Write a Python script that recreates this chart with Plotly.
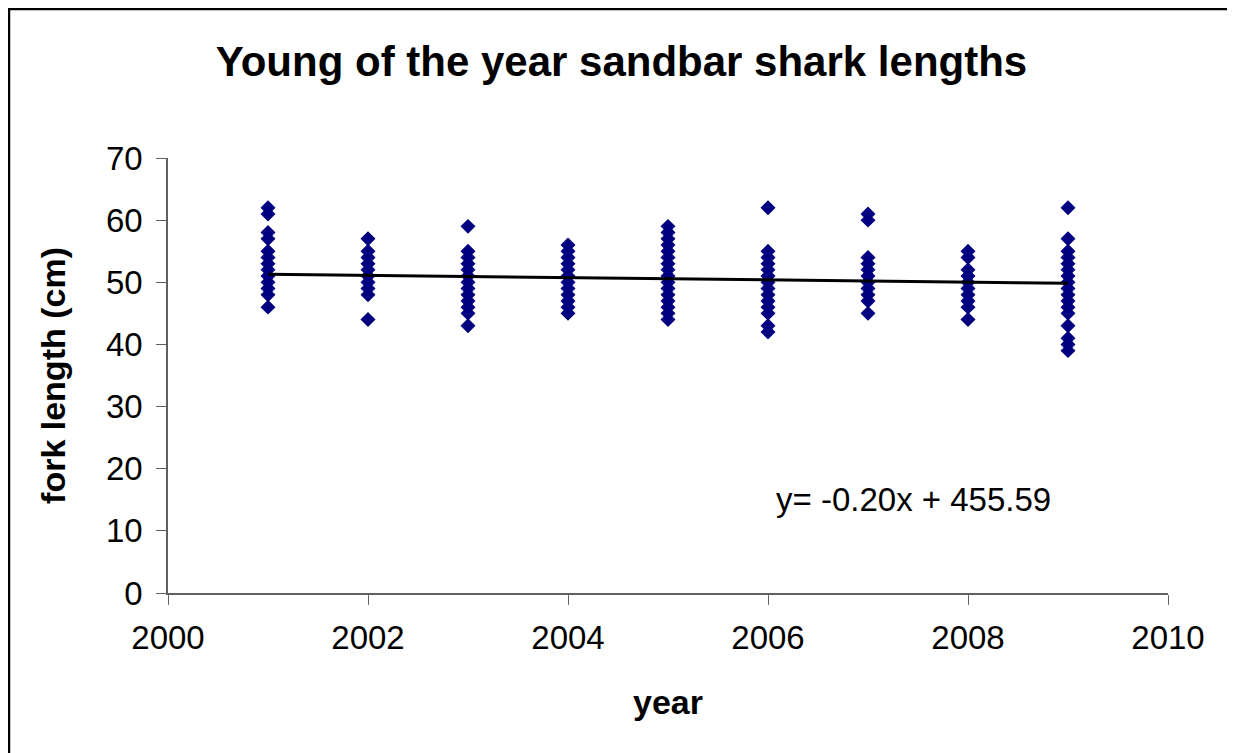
import plotly.graph_objects as go

# ---- data ----
years = [2001, 2002, 2003, 2004, 2005, 2006, 2007, 2008, 2009]
lengths_by_year = {
    2001: [62, 61, 58, 57, 55, 54, 53, 52, 51, 50, 49, 48, 46],
    2002: [57, 55, 54, 53, 52, 51, 50, 49, 48, 44],
    2003: [59, 55, 54, 53, 52, 51, 50, 49, 48, 47, 46, 45, 43],
    2004: [56, 55, 54, 53, 52, 51, 50, 49, 48, 47, 46, 45],
    2005: [59, 58, 57, 56, 55, 54, 53, 52, 51, 50, 49, 48, 47, 46, 45, 44],
    2006: [62, 55, 54, 53, 52, 51, 50, 49, 48, 47, 46, 45, 43, 42],
    2007: [61, 60, 54, 53, 52, 51, 50, 49, 48, 47, 45],
    2008: [55, 54, 52, 51, 50, 49, 48, 47, 46, 44],
    2009: [62, 57, 55, 54, 53, 52, 51, 50, 49, 48, 47, 46, 45, 43, 41, 40, 39],
}
trend_years = [2001, 2009]
trend_values = [51.3, 49.85]
equation_text = "y= -0.20x + 455.59"
x_ticks = [2000, 2002, 2004, 2006, 2008, 2010]
y_ticks = [0, 10, 20, 30, 40, 50, 60, 70]

xs, ys = [], []
for yr in years:
    for v in lengths_by_year[yr]:
        xs.append(yr)
        ys.append(v)

FONT = "Arial, Liberation Sans, sans-serif"

fig = go.Figure()
fig.add_trace(go.Scatter(
    x=xs, y=ys, mode="markers",
    marker=dict(symbol="diamond", size=11.5, color="#000080"),
    showlegend=False, hoverinfo="x+y",
))
fig.add_trace(go.Scatter(
    x=trend_years, y=trend_values, mode="lines",
    line=dict(color="black", width=3), showlegend=False,
))

fig.add_annotation(x=2007.45, y=15.0, xref="x", yref="y", text=equation_text,
                   showarrow=False, font=dict(family=FONT, size=33, color="black"))

# outer chart border (page body has an 8px margin, so figure is 8px smaller)
fig.add_shape(type="rect", xref="paper", yref="paper",
              x0=-0.159, x1=1.064, y0=-0.40, y1=1.3425,
              line=dict(color="black", width=2.5), fillcolor="rgba(0,0,0,0)")

fig.update_layout(
    width=1227, height=745,
    margin=dict(l=160, r=67, t=150, b=160),
    paper_bgcolor="white", plot_bgcolor="white",
    font=dict(family=FONT, size=33, color="black"),
    title=dict(text="<b>Young of the year sandbar shark lengths</b>",
               x=0.5, xref="container", xanchor="center",
               y=1 - 53 / 745, yref="container", yanchor="middle",
               font=dict(family=FONT, size=42, color="black")),
)
fig.update_xaxes(
    range=[2000, 2010], tickvals=x_ticks, ticks="outside", ticklen=10,
    tickcolor="#606060", showline=True, linecolor="#606060", linewidth=1.5,
    showgrid=False, zeroline=False, ticklabelstandoff=5,
    title=dict(text="<b>year</b>", font=dict(family=FONT, size=34), standoff=35),
    tickfont=dict(family=FONT, size=33),
)
fig.update_yaxes(
    range=[0, 70], tickvals=y_ticks, ticks="outside", ticklen=10,
    tickcolor="#606060", showline=True, linecolor="#606060", linewidth=1.5,
    showgrid=False, zeroline=False, ticklabelstandoff=7,
    title=dict(text="<b>fork length (cm)</b>", font=dict(family=FONT, size=34), standoff=30),
    tickfont=dict(family=FONT, size=33),
)

fig.write_html("out.html")
